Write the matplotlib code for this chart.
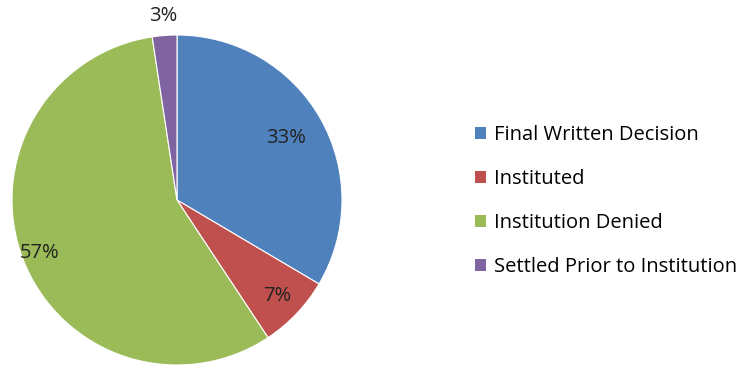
import matplotlib
matplotlib.use("Agg")
import matplotlib.pyplot as plt
import numpy as np
from matplotlib.patches import Patch

categories = ["Final Written Decision", "Instituted", "Institution Denied", "Settled Prior to Institution"]
values = [33.5, 7.2, 56.9, 2.4]
labels = ["33%", "7%", "57%", "3%"]
colors = ["#4F81BD", "#C0504D", "#9BBB59", "#8064A2"]

plt.rcParams['font.family'] = ['Open Sans', 'DejaVu Sans']

fig = plt.figure(figsize=(7.47, 3.69), dpi=100)
ax = fig.add_axes([12/747, 4/369, 330/747, 330/369])
wedges, _ = ax.pie(values, colors=colors, startangle=90, counterclock=False,
                   radius=1.0, wedgeprops=dict(edgecolor="white", linewidth=0.8))
ax.set_xlim(-1, 1)
ax.set_ylim(-1, 1)
ax.set_aspect('auto')
ax.axis('off')

dists = [0.76, 0.84, 0.89, 1.12]
for w, lab, d in zip(wedges, labels, dists):
    ang = np.deg2rad((w.theta1 + w.theta2) / 2)
    ax.text(d * np.cos(ang), d * np.sin(ang), lab, ha='center', va='center',
            fontsize=14.5, color="#222222", clip_on=False)

handles = [Patch(facecolor=c, edgecolor='none') for c in colors]
fig.legend(handles, categories, loc='center left', bbox_to_anchor=(475/747, 1 - 201/369),
           frameon=False, fontsize=14.5, handlelength=0.55, handleheight=0.55,
           handletextpad=0.4, labelspacing=1.2, borderaxespad=0, borderpad=0)

fig.savefig("out.png", dpi=100)
